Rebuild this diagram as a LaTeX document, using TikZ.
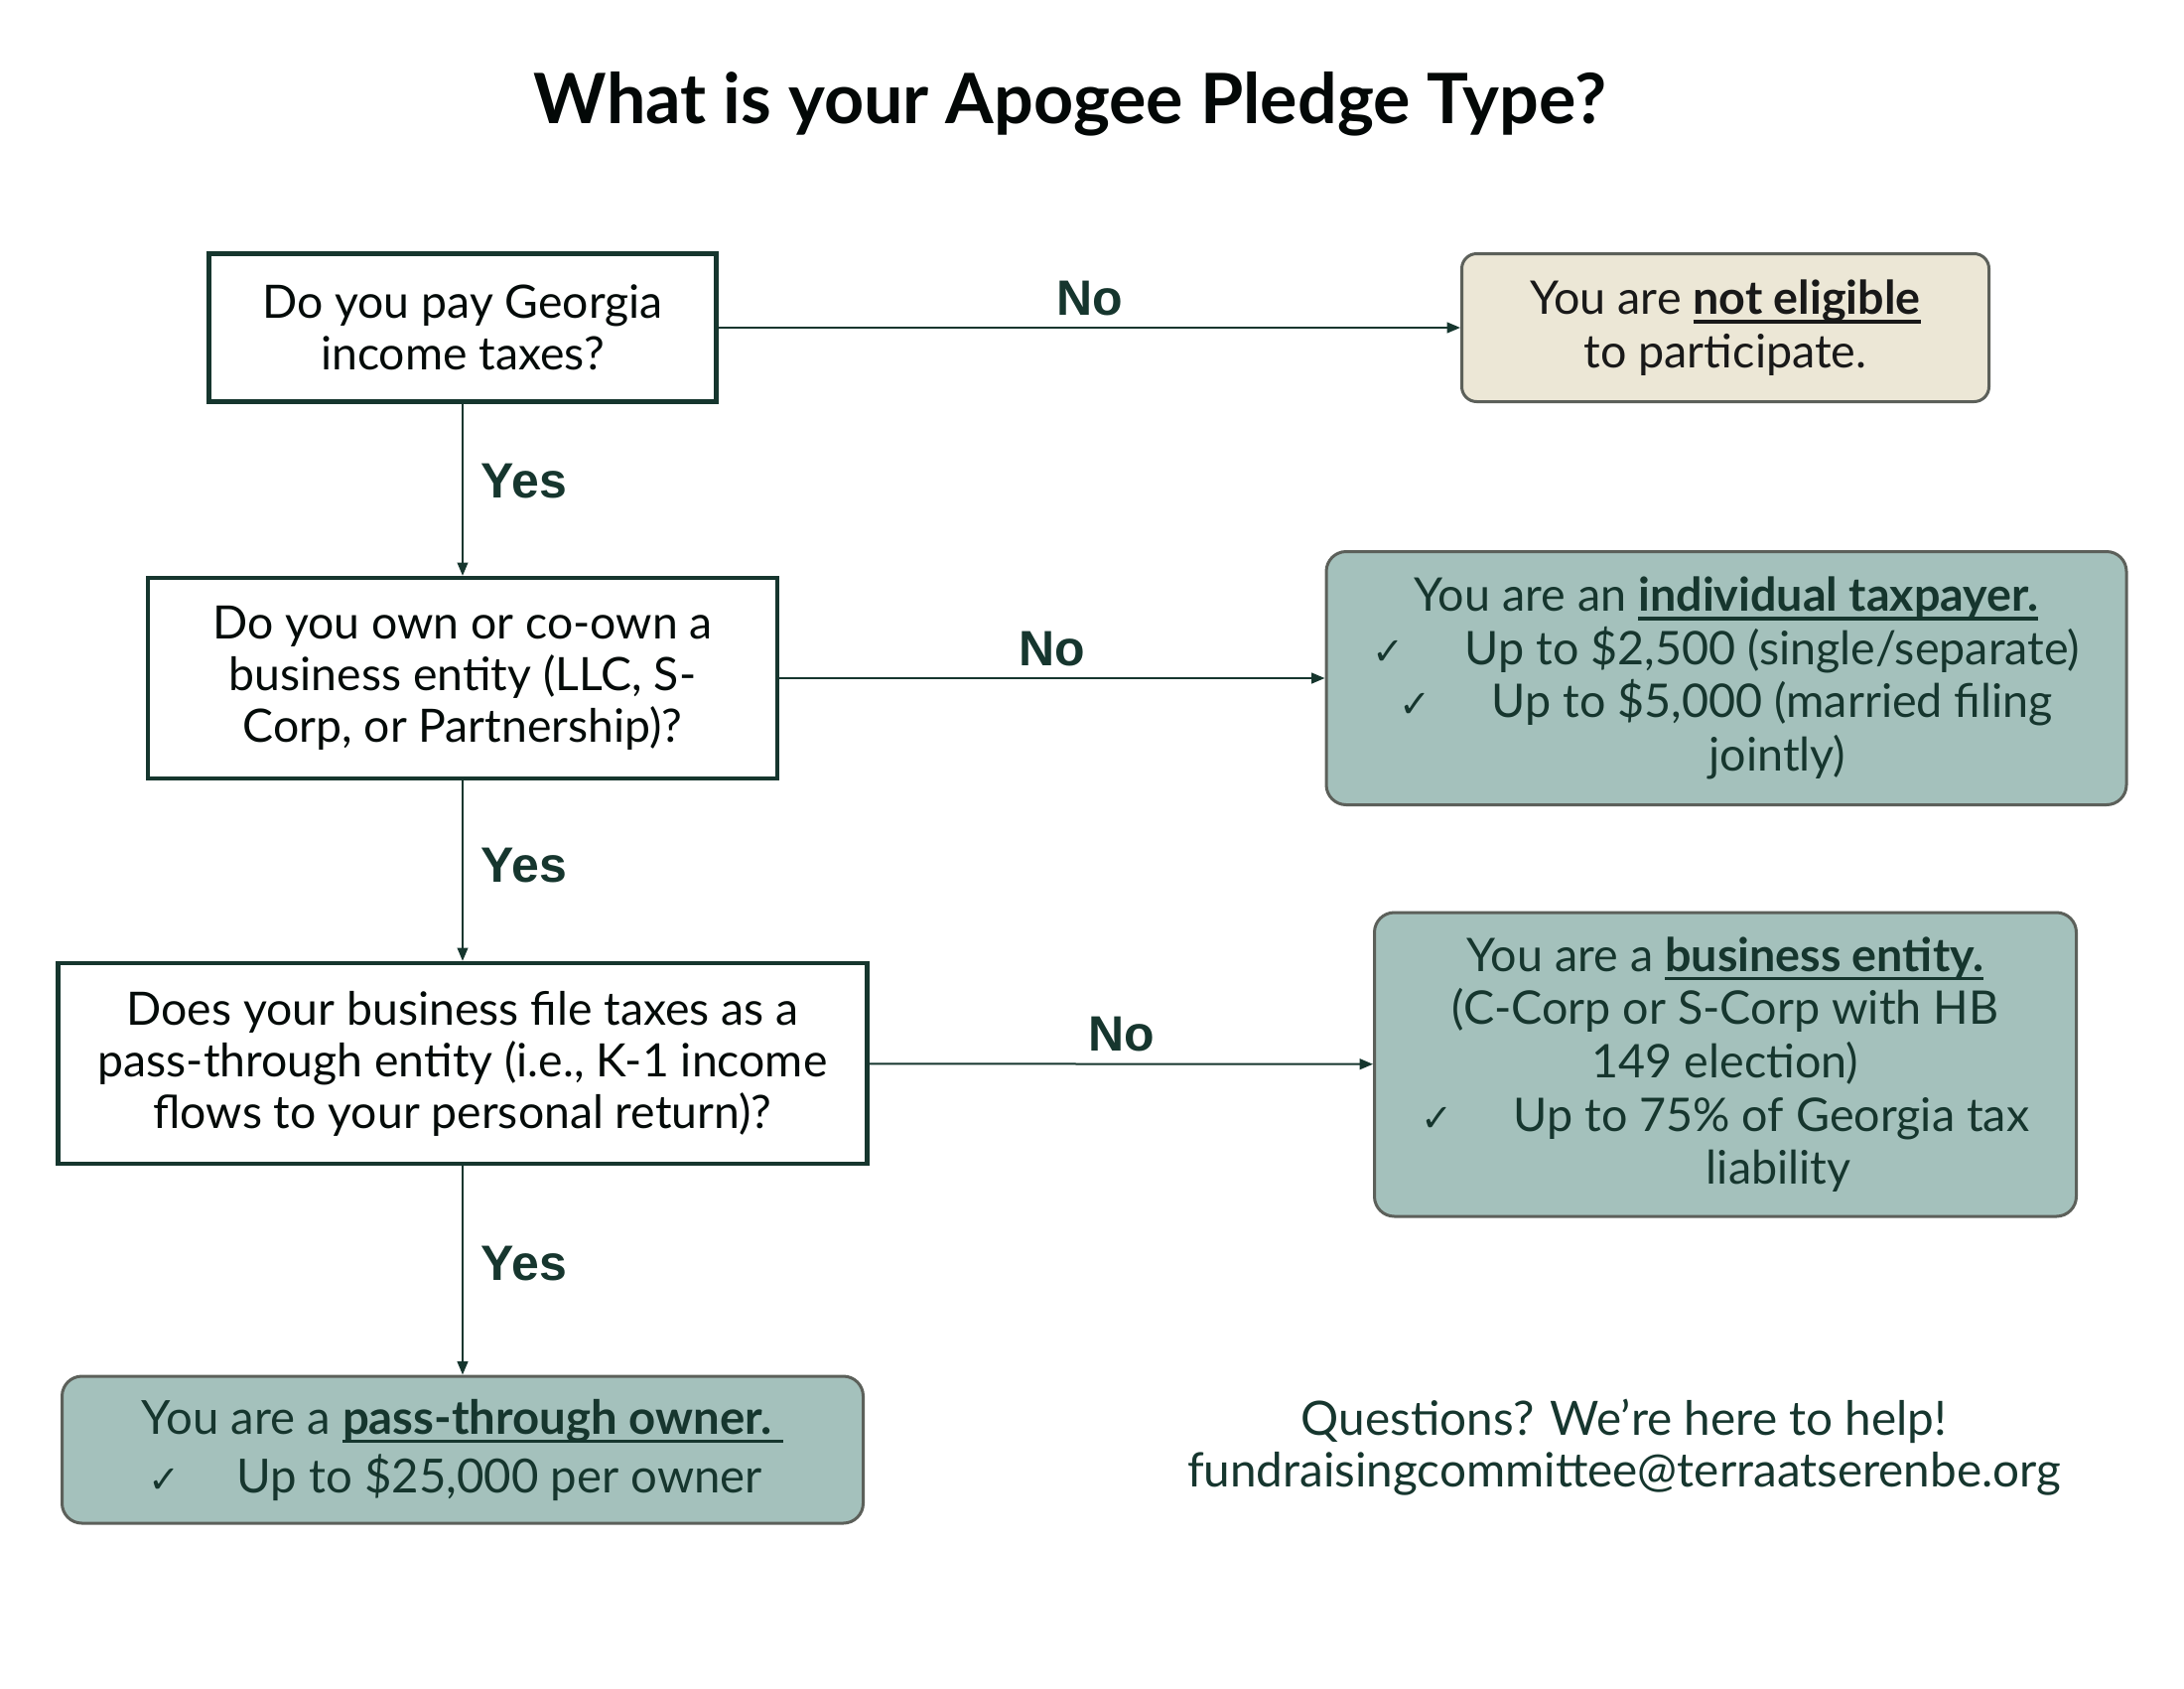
\documentclass[tikz,border=0pt]{standalone}
\usepackage{fontspec}
\setmainfont{Lato}
\newfontfamily\answerfont{Liberation Sans}
\newfontfamily\checkfont{DejaVu Sans}
\usepackage{tikz}
\usetikzlibrary{arrows.meta}
\definecolor{sagefill}{RGB}{164,193,188}
\definecolor{creamfill}{RGB}{236,231,214}
\definecolor{pineink}{RGB}{22,54,46}
\definecolor{boxrim}{RGB}{92,96,90}
\newsavebox{\kwbox}
\newcommand{\ck}{{\checkfont\fontsize{11.5}{12}\selectfont ✓}}
\newcommand{\keyword}[1]{\sbox{\kwbox}{\textbf{#1}}\rlap{\rule[-2.8pt]{\wd\kwbox}{1.1pt}}\usebox{\kwbox}}

\begin{document}
\begin{tikzpicture}[x=0.3pt,y=-0.3pt,
  question/.style={draw=pineink,line width=1.3pt,align=center,text=black!80!pineink,
    font=\fontsize{13.9}{15.6}\selectfont},
  outcome/.style={draw=boxrim,line width=0.9pt,rounded corners=6pt,fill=sagefill,
    align=center,text=pineink,font=\fontsize{14}{16.1}\selectfont},
  flow/.style={draw=pineink,line width=0.6pt,-{Triangle[length=4pt,width=3.2pt]}},
  answer/.style={font=\answerfont\bfseries\fontsize{15}{17}\selectfont,text=pineink}]
  \useasboundingbox (0,0) rectangle (2200,1700);

  % title
  \node[font=\fontsize{21}{25}\selectfont\bfseries,text=black!85!pineink] (title)
    at (1078,105) {What is your Apogee Pledge Type?};

  % left column: the three questions and the last outcome
  \node[question,minimum width=153.3pt,minimum height=44.7pt] (taxes) at (466,330)
    {Do you pay Georgia\\ income taxes?};
  \node[question,minimum width=190.2pt,minimum height=60.6pt] (owns) at (466,683)
    {Do you own or co-own a\\ business entity (LLC, S-\\ Corp, or Partnership)?};
  \node[question,minimum width=244.5pt,minimum height=60.6pt] (passthru) at (466,1071)
    {Does your business file taxes as a\\ pass-through entity (i.e., K-1 income\\ flows to your personal return)?};
  \node[outcome,minimum width=242.1pt,minimum height=44.4pt,
    font=\fontsize{14.2}{17.7}\selectfont] (owner) at (466,1460)
    {You are a \keyword{pass-through owner.\hspace{0.25em}}\\
     \hspace*{0.6em}\ck\hspace{1.2em}Up to \$25,000 per owner\hspace*{0.9em}};

  % right column: outcomes for "No"
  \node[outcome,fill=creamfill,text=black!90,rounded corners=4.5pt,
    minimum width=159.3pt,minimum height=44.7pt] (noteligible) at (1738,330)
    {You are \keyword{not eligible}\\ to participate.};
  \node[outcome,minimum width=241.8pt,minimum height=76.5pt] (individual) at (1739,683)
    {You are an \keyword{individual taxpayer.}\\
     \ck\hspace{1.3em}Up to \$2,500 (single/separate)\\
     \ck\hspace{1.3em}Up to \$5,000 (married filing\\
     \hspace*{2.2em}jointly)};
  \node[outcome,minimum width=212.1pt,minimum height=91.8pt] (business) at (1738,1072)
    {You are a \keyword{business entity.}\\
     (C-Corp or S-Corp with HB\\
     149 election)\\
     \ck\hspace{1.3em}Up to 75\% of Georgia tax\\
     \hspace*{2.3em}liability};

  % contact
  \node[align=center,text=pineink,font=\fontsize{14.3}{15.6}\selectfont] (contact) at (1636,1458)
    {Questions? We{\char39}re here to help!\\ fundraisingcommittee@terraatserenbe.org};

  % connectors
  \draw[flow] (taxes) -- node[answer,pos=0.45,right=2pt] {Yes} (owns);
  \draw[flow] (owns) -- node[answer,pos=0.47,right=2pt] {Yes} (passthru);
  \draw[flow] (passthru) -- node[answer,pos=0.47,right=2pt] {Yes} (owner);
  \draw[flow] (taxes) -- node[answer,above=0pt] {No} (noteligible);
  \draw[flow] (owns) -- node[answer,above=0pt] {No} (individual);
  \draw[flow] (passthru) -- node[answer,above=0pt] {No} (business);
\end{tikzpicture}
\end{document}
